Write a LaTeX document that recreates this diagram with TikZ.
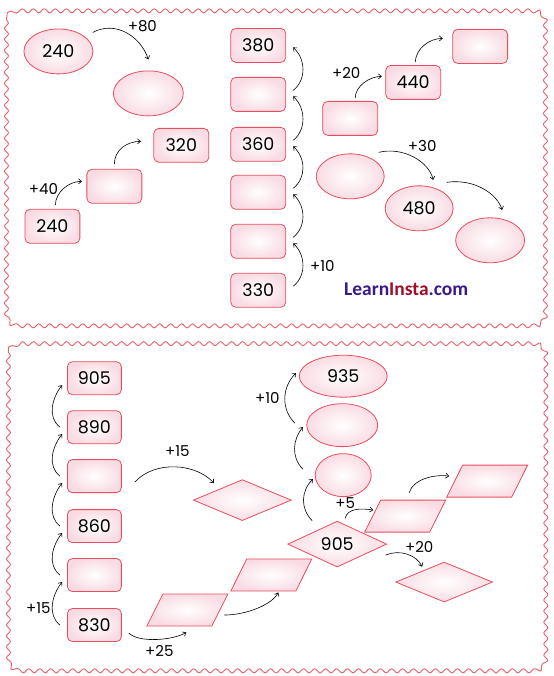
\documentclass[tikz,border=0pt]{standalone}
\usepackage{fontspec}
\setmainfont{Poppins}
\newfontfamily\brandfont{Carlito}
\usetikzlibrary{arrows.meta,shapes.geometric,decorations.pathmorphing}

\definecolor{boxred}{RGB}{232,78,94}
\definecolor{wavered}{RGB}{236,96,110}
\definecolor{boxpink}{RGB}{249,220,227}
\definecolor{brandblue}{RGB}{58,26,138}
\definecolor{brandred}{RGB}{160,14,40}

\begin{document}
\begin{tikzpicture}[x=1pt,y=-1pt,>={Straight Barb[length=3pt,width=5pt]},font=\fontsize{17.5}{19}\selectfont]
\tikzstyle{frame}=[draw=wavered,line width=0.9pt,decoration={snake,amplitude=2pt,segment length=11pt}]
\tikzstyle{box}=[draw=boxred,line width=0.8pt,rounded corners=5pt,inner color=white,outer color=boxpink,minimum width=55pt,minimum height=34pt,inner sep=0pt]
\tikzstyle{oval}=[ellipse,draw=boxred,line width=0.8pt,inner color=white,outer color=boxpink,inner sep=0pt]
\tikzstyle{kite}=[diamond,draw=boxred,line width=0.8pt,inner color=white,outer color=boxpink,inner sep=0pt,minimum width=98pt,minimum height=41pt]
\tikzstyle{slab}=[trapezium,trapezium left angle=72,trapezium right angle=108,trapezium stretches,draw=boxred,line width=0.8pt,inner color=white,outer color=boxpink,inner sep=2pt,minimum width=81pt,minimum height=32pt]
\tikzstyle{hop}=[->,black,line width=0.6pt]
\tikzstyle{lbl}=[font=\fontsize{15}{17}\selectfont,inner sep=0pt]

\fill[white] (0,0) rectangle (553,676);
\draw[frame] decorate {[rounded corners=12pt] (6,7) rectangle (545,323)};
\draw[frame] decorate {[rounded corners=12pt] (8,340) rectangle (545,668)};

% top panel
\node[oval,minimum width=69pt,minimum height=45pt] (e1) at (58,51) {240};
\node[oval,minimum width=70pt,minimum height=45pt] (e2) at (148,93) {};
\node[box] (r1) at (52,226) {240};
\node[box] (r2) at (114,186) {};
\node[box] (r3) at (181,145) {320};
\draw[hop] ([shift={(-0.5,-19)}]e1.east) .. controls +(22,-12) and +(-8,-24) .. ([shift={(0,-11)}]e2.north);
\draw[hop] ([shift={(3,-4)}]r1.north) .. controls +(0,-12) and +(-14,0) .. ([shift={(-4.5,-5)}]r2.west);
\draw[hop] ([shift={(0,-5)}]r2.north) .. controls +(0,-14) and +(-14,0) .. ([shift={(-12.5,-4)}]r3.west);
\node[lbl] (l80) at (142,26) {+80};
\node[lbl] (l40) at (43,189) {+40};

\node[box] (c1) at (258,45) {380};
\node[box] (c2) at (258,94) {};
\node[box] (c3) at (258,144) {360};
\node[box] (c4) at (258,192) {};
\node[box] (c5) at (258,241) {};
\node[box] (c6) at (258,290) {330};
\foreach \a/\b in {c6/c5,c5/c4,c4/c3,c3/c2,c2/c1}
  \draw[hop] ([shift={(7,-4)}]\a.east) .. controls +(13,-10) and +(13,12) .. ([shift={(7,2)}]\b.east);
\node[lbl] (l10) at (322,266) {+10};

\node[box] (r4) at (350,118) {};
\node[box] (r5) at (413,82) {440};
\node[box] (r6) at (480,46) {};
\draw[hop] ([shift={(5,-3)}]r4.north) .. controls +(0,-12) and +(-12,0) .. ([shift={(-3.5,-6)}]r5.west);
\draw[hop] ([shift={(2,-3)}]r5.north) .. controls +(1,-14) and +(-13,0) .. ([shift={(-9.5,-8)}]r6.west);
\node[lbl] (l20) at (346,73) {+20};

\node[oval,minimum width=68pt,minimum height=45pt] (e3) at (350,176) {};
\node[oval,minimum width=68pt,minimum height=45pt] (e4) at (419,208) {480};
\node[oval,minimum width=69pt,minimum height=45pt] (e5) at (490,240) {};
\draw[hop] ([shift={(-6,-24)}]e3.east) .. controls +(25,-6) and +(-4,-18) .. ([shift={(14,-5.5)}]e4.north);
\draw[hop] ([shift={(-7,-26)}]e4.east) .. controls +(28,-4) and +(-5,-16) .. ([shift={(12,-7.5)}]e5.north);
\node[lbl] (l30) at (422,146) {+30};

\node[font=\brandfont\bfseries\fontsize{19.5}{21}\selectfont] (brand) at (406,289) {\textcolor{brandblue}{Learn}\textcolor{brandred}{Insta}\textcolor{brandblue}{.com}};

% bottom panel
\node[box,minimum height=33pt,minimum width=54pt] (d1) at (94,378) {905};
\node[box,minimum height=33pt,minimum width=54pt] (d2) at (94,427) {890};
\node[box,minimum height=33pt,minimum width=54pt] (d3) at (94,476) {};
\node[box,minimum height=33pt,minimum width=54pt] (d4) at (94,526) {860};
\node[box,minimum height=33pt,minimum width=54pt] (d5) at (94,575) {};
\node[box,minimum height=33pt,minimum width=54pt] (d6) at (94,625) {830};
\foreach \a/\b in {d6/d5,d5/d4,d4/d3,d3/d2,d2/d1}
  \draw[hop] ([shift={(-7,0)}]\a.west) .. controls +(-13,-10) and +(-10,13) .. ([shift={(-5,7)}]\b.west);
\node[lbl] (l15a) at (38,608) {+15};

\node[kite] (k1) at (242,500) {};
\draw[hop] ([shift={(13,6)}]d3.east) .. controls +(20,-22) and +(-18,-20) .. ([shift={(21,-17)}]k1.west);
\node[lbl] (l15b) at (177,451) {+15};

\node[slab] (p1) at (187,610) {};
\node[slab] (p2) at (271,575) {};
\draw[hop] ([shift={(7,8)}]d6.east) .. controls +(10,10) and +(-14,8) .. ([shift={(-1,6)}]p1.south);
\draw[hop] ([shift={(4,5)}]p1.east) .. controls +(22,0) and +(-6,12) .. ([shift={(7,1)}]p2.south);
\node[lbl] (l25) at (159,651) {+25};

\node[kite,minimum width=99pt] (k2) at (337,544) {905};
\node[oval,minimum width=56pt,minimum height=43pt] (o1) at (343,475) {};
\node[oval,minimum width=71pt,minimum height=43pt] (o2) at (342,425) {};
\node[oval,minimum width=88pt,minimum height=42pt] (o3) at (343,376) {935};
\draw[hop] ([shift={(-25,0)}]k2.north) .. controls +(-12,-12) and +(-12,12) .. ([shift={(-2,4)}]o1.west);
\draw[hop] ([shift={(-12,-6)}]o1.west) .. controls +(-12,-12) and +(-10,12) .. ([shift={(-3.5,2)}]o2.west);
\draw[hop] ([shift={(-11.5,-2)}]o2.west) .. controls +(-14,-14) and +(-14,14) .. ([shift={(-3,-3)}]o3.west);
\node[lbl] (l10b) at (267,398) {+10};

\node[slab] (p3) at (405,516) {};
\node[slab] (p4) at (487,481) {};
\node[kite,minimum width=97pt,minimum height=40pt] (k3) at (444,582) {};
\draw[hop] ([shift={(8,-2.5)}]k2.north) .. controls +(2,-10) and +(-12,-2) .. ([shift={(1,-6)}]p3.west);
\draw[hop] ([shift={(4,-7)}]p3.north) .. controls +(4,-14) and +(-14,-2) .. ([shift={(-5,-5)}]p4.west);
\draw[hop] ([shift={(-1.5,11)}]k2.east) .. controls +(14,-6) and +(-6,-12) .. ([shift={(-22,5)}]k3.north);
\node[lbl] (l5) at (345,503) {+5};
\node[lbl] (l20b) at (419,547) {+20};
\end{tikzpicture}
\end{document}
